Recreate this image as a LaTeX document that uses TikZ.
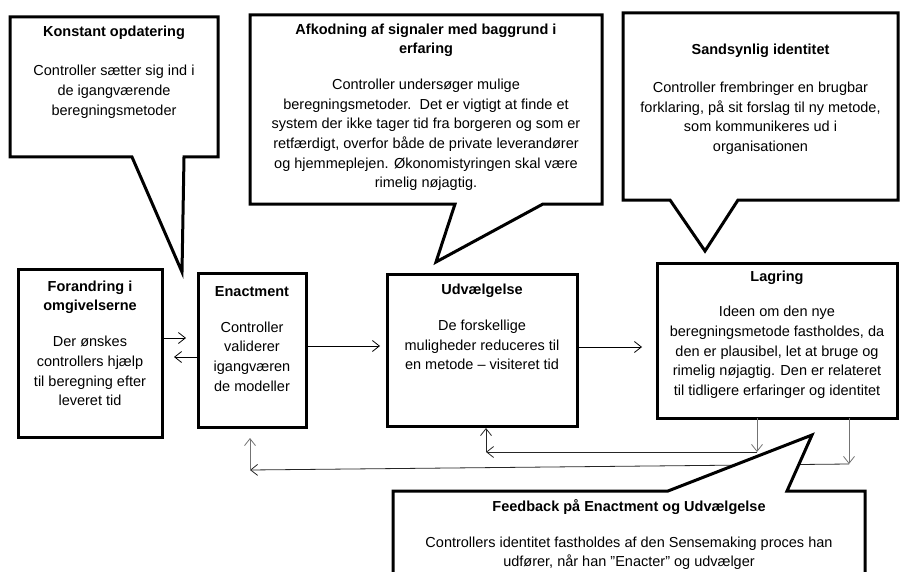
\documentclass[tikz,border=0pt]{standalone}
\usepackage{fontspec}
\setmainfont{Liberation Sans}
\usetikzlibrary{positioning,arrows.meta}

\begin{document}
\begin{tikzpicture}[x=1pt, y=-1pt,
  line/.style={draw, line width=0.8pt, -{Straight Barb[length=7pt,width=11pt]}},
  fb/.style={line, draw=black!85},
  fbgray/.style={line, draw=black!55},
  stage/.style={rectangle, draw=black, line width=3pt, fill=white, outer sep=0pt, anchor=center},
  frame/.style={rectangle, draw=none, inner sep=0pt, outer sep=0pt, anchor=center},
  bubble/.style={draw=black, line width=3pt, fill=white},
  txt/.style={align=center, inner sep=0pt, font=\fontsize{14.5}{19.7}\selectfont}]
\path[use as bounding box] (0,0) rectangle (901,572);
\clip (0,0) rectangle (901,572);

% the four stages
\node [stage, minimum width=144pt, minimum height=168pt] (forandring) at (90,353) {};
\node [stage, minimum width=108pt, minimum height=154pt] (enactment) at (252,350) {};
\node [stage, minimum width=190pt, minimum height=152pt] (udv) at (482,350) {};
\node [stage, minimum width=240pt, minimum height=155pt] (lagring) at (777,340.5) {};

\node [txt, below=11.5pt of forandring.north] (forandringtxt) {\textbf{Forandring i}\\\textbf{omgivelserne}\\[16pt]Der ønskes\\controllers hjælp\\til beregning efter\\leveret tid};
\node [txt, below=13.3pt of enactment.north] (enactmenttxt) {\textbf{Enactment}\\[16pt]Controller\\validerer\\igangværen\\de modeller};
\node [txt, below=10pt of udv.north] (udvtxt) {\textbf{Udvælgelse}\\[16pt]De forskellige\\muligheder reduceres til\\en metode – visiteret tid};
\node [txt, below=7.4pt of lagring.north] (lagringtxt) {\textbf{Lagring}\\[16pt]Ideen om den nye\\beregningsmetode fastholdes, da\\den er plausibel, let at bruge og\\rimelig nøjagtig. Den er relateret\\til tidligere erfaringer og identitet};

\begin{scope}[every path/.style=line]
  \path [shorten >=12pt] ([yshift=15pt]forandring.east) -- ([yshift=12pt]enactment.west);
  \path [shorten >=12pt] ([yshift=-7pt]enactment.west) -- ([yshift=-4pt]forandring.east);
  \path [shorten >=7pt] ([yshift=4pt]enactment.east) -- ([yshift=4pt]udv.west);
  \path [shorten >=15pt] ([yshift=3pt]udv.east) -- ([yshift=-6.5pt]lagring.west);
\end{scope}

% feedback loops
\coordinate (udvknee) at (757,452);
\coordinate (udvcorner) at (486,452);
\coordinate (enaknee) at (849,464);
\coordinate (enacorner) at (250,470);
\path [fbgray] ([xshift=-20pt]lagring.south) -- (udvknee);
\path [fb] (udvknee) -- (udvcorner);
\path [fb, shorten >=2pt] (udvcorner) -- (udvcorner |- udv.south);
\path [fbgray] ([xshift=72pt]lagring.south) -- (enaknee);
\path [fb] (enaknee) -- (enacorner);
\path [fbgray, shorten >=11pt] (enacorner) -- (enacorner |- enactment.south);

% callouts
\node [frame, minimum width=208pt, minimum height=140pt] (konstant) at (114,87) {};
\coordinate (konstanttip) at (182,272);
\draw [bubble] (konstant.north west) -- (konstant.north east) -- (konstant.south east)
  -- ([xshift=-34pt]konstant.south east) -- (konstanttip) -- ([xshift=122pt]konstant.south west)
  -- (konstant.south west) -- cycle;
\node [txt, below=8.3pt of konstant.north] (konstanttxt) {\textbf{Konstant opdatering}\\[20pt]Controller sætter sig ind i\\de igangværende\\beregningsmetoder};

\node [frame, minimum width=352pt, minimum height=189pt] (afkodning) at (426,109.5) {};
\coordinate (afkodningtip) at (436,262);
\draw [bubble] (afkodning.north west) -- (afkodning.north east) -- (afkodning.south east)
  -- ([xshift=-59pt]afkodning.south east) -- (afkodningtip) -- ([xshift=205pt]afkodning.south west)
  -- (afkodning.south west) -- cycle;
\node [txt, below=8.3pt of afkodning.north] (afkodningtxt) {\textbf{Afkodning af signaler med baggrund i}\\\textbf{erfaring}\\[16pt]Controller undersøger mulige\\beregningsmetoder.\ \ Det er vigtigt at finde et\\system der ikke tager tid fra borgeren og som er\\retfærdigt, overfor både de private leverandører\\og hjemmeplejen. Økonomistyringen skal være\\rimelig nøjagtig.};

\node [frame, minimum width=275pt, minimum height=187pt] (sandsynlig) at (760.5,106.5) {};
\coordinate (sandsynligtip) at (705,251);
\draw [bubble] (sandsynlig.north west) -- (sandsynlig.north east) -- (sandsynlig.south east)
  -- ([xshift=-160pt]sandsynlig.south east) -- (sandsynligtip) -- ([xshift=47pt]sandsynlig.south west)
  -- (sandsynlig.south west) -- cycle;
\node [txt, below=31pt of sandsynlig.north] (sandsynligtxt) {\textbf{Sandsynlig identitet}\\[18pt]Controller frembringer en brugbar\\forklaring, på sit forslag til ny metode,\\som kommunikeres ud i\\organisationen};

\node [frame, minimum width=472pt, minimum height=120pt] (feedback) at (629,551) {};
\coordinate (feedbacktip) at (812,435);
\draw [bubble] (feedback.south west) -- (feedback.north west)
  -- ([xshift=275pt]feedback.north west) -- (feedbacktip) -- ([xshift=-78pt]feedback.north east)
  -- (feedback.north east) -- (feedback.south east) -- cycle;
\node [txt, below=8.3pt of feedback.north] (feedbacktxt) {\textbf{Feedback på Enactment og Udvælgelse}\\[16pt]Controllers identitet fastholdes af den Sensemaking proces han\\udfører, når han ”Enacter” og udvælger};
\end{tikzpicture}
\end{document}
